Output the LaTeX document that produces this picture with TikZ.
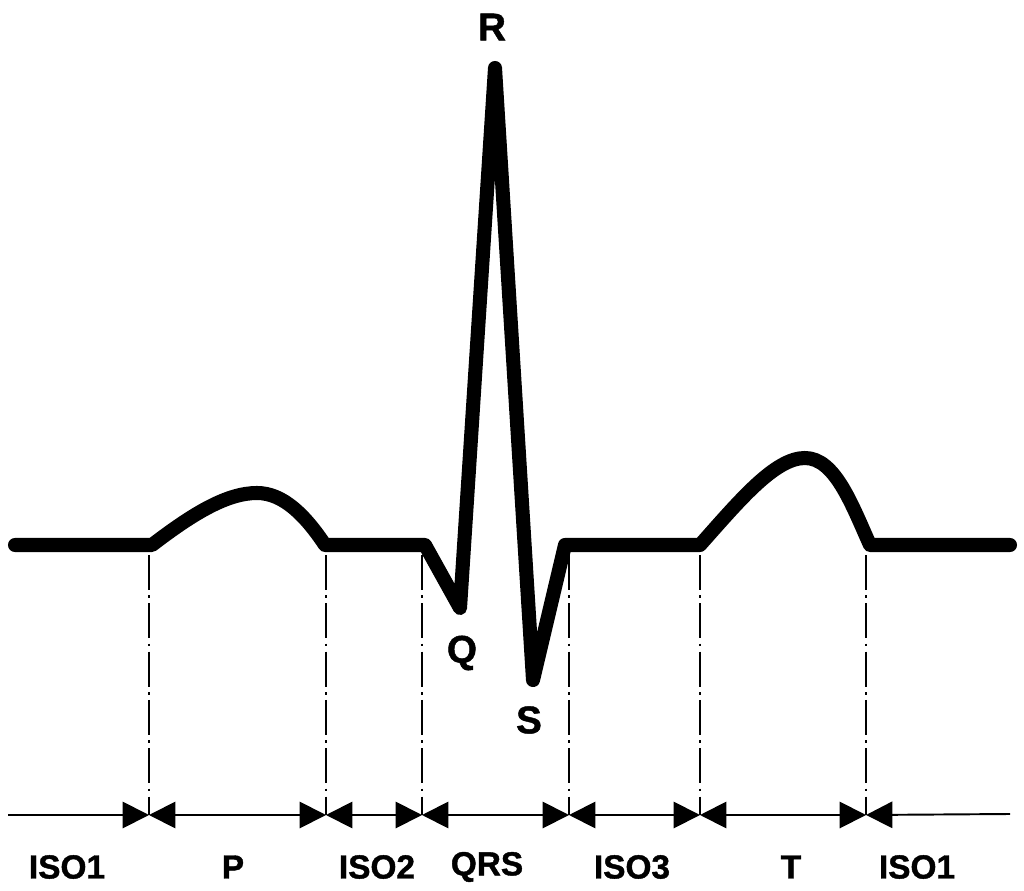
\documentclass[tikz,border=0pt]{standalone}
\usepackage{fontspec}
\setmainfont{Liberation Sans}[BoldFeatures={FakeBold=1.2}]
\usetikzlibrary{positioning, calc, arrows.meta}
\tikzset{Head/.tip = {Triangle[length=15pt, width=15pt]}}
\tikzstyle{Trace} = [line width=8pt, line cap=round, line join=round]
\tikzstyle{Guide} = [line width=1pt, dash pattern=on 20pt off 3pt on 1.5pt off 3pt]
\tikzstyle{Span} = [line width=1.1pt]
\tikzstyle{Lbl} = [font=\bfseries\fontsize{19}{19}\selectfont, inner sep=0pt]
\tikzstyle{Peak} = [font=\bfseries\fontsize{22}{22}\selectfont, inner sep=0pt]

\begin{document}
\begin{tikzpicture}[x=0.02cm, y=0.02cm]
    \useasboundingbox (0,0) rectangle (1024,890);
    % points of the trace
    \coordinate (start) at (15,345);
    \coordinate (p0) at (152,345);
    \coordinate (ppk) at (257,397);
    \coordinate (p1) at (325,345);
    \coordinate (q0) at (425,345);
    \coordinate (q) at (460,282);
    \coordinate (r) at (495,822);
    \coordinate (s) at (533,210);
    \coordinate (s1) at (565,345);
    \coordinate (t0) at (700,345);
    \coordinate (tpk) at (805,432);
    \coordinate (t1) at (870,345);
    \coordinate (stop) at (1010,345);
    \draw[Trace] (start) -- (p0) .. controls (195,378) and (228,397) .. (ppk)
        .. controls (283,397) and (305,375) .. (p1) -- (q0) -- (q) -- (r) -- (s) -- (s1) -- (t0)
        .. controls (740,390) and (775,432) .. (tpk)
        .. controls (835,432) and (852,385) .. (t1) -- (stop);
    % boundaries
    \coordinate (b1) at (149,335);
    \coordinate (b2) at (326,335);
    \coordinate (b3) at (422,335);
    \coordinate (b4) at (569,335);
    \coordinate (b5) at (700,335);
    \coordinate (b6) at (866,335);
    \coordinate (f1) at (149,75);
    \coordinate (f2) at (326,75);
    \coordinate (f3) at (422,75);
    \coordinate (f4) at (569,75);
    \coordinate (f5) at (700,75);
    \coordinate (f6) at (866,75);
    \coordinate (left) at (8,75);
    \coordinate (right) at (1010,76);
    \draw[Guide] (b1) -- (f1);
    \draw[Guide] (b2) -- (f2);
    \draw[Guide] (b3) -- (f3);
    \draw[Guide] (b4) -- (f4);
    \draw[Guide] (b5) -- (f5);
    \draw[Guide] (b6) -- (f6);
    \draw[Span, -Head] (left) -- (f1);
    \draw[Span, Head-Head] (f1) -- (f2);
    \draw[Span, Head-Head] (f2) -- (f3);
    \draw[Span, Head-Head] (f3) -- (f4);
    \draw[Span, Head-Head] (f4) -- (f5);
    \draw[Span, Head-Head] (f5) -- (f6);
    \draw[Span, Head-] (f6) -- (right);
    % labels
    \node[Lbl] (iso1) at (67,23) {ISO1};
    \node[Lbl] (pw) at (233,23) {P};
    \node[Lbl] (iso2) at (377,23) {ISO2};
    \node[Lbl] (qrs) at (487,23) {QRS};
    \node[Lbl] (iso3) at (632,23) {ISO3};
    \node[Lbl] (tw) at (791,23) {T};
    \node[Lbl] (iso1b) at (917,23) {ISO1};
    \node[Peak] (rl) at (492,863) {R};
    \node[Peak] (ql) at (462,237) {Q};
    \node[Peak] (sl) at (529,170) {S};
\end{tikzpicture}
\end{document}
